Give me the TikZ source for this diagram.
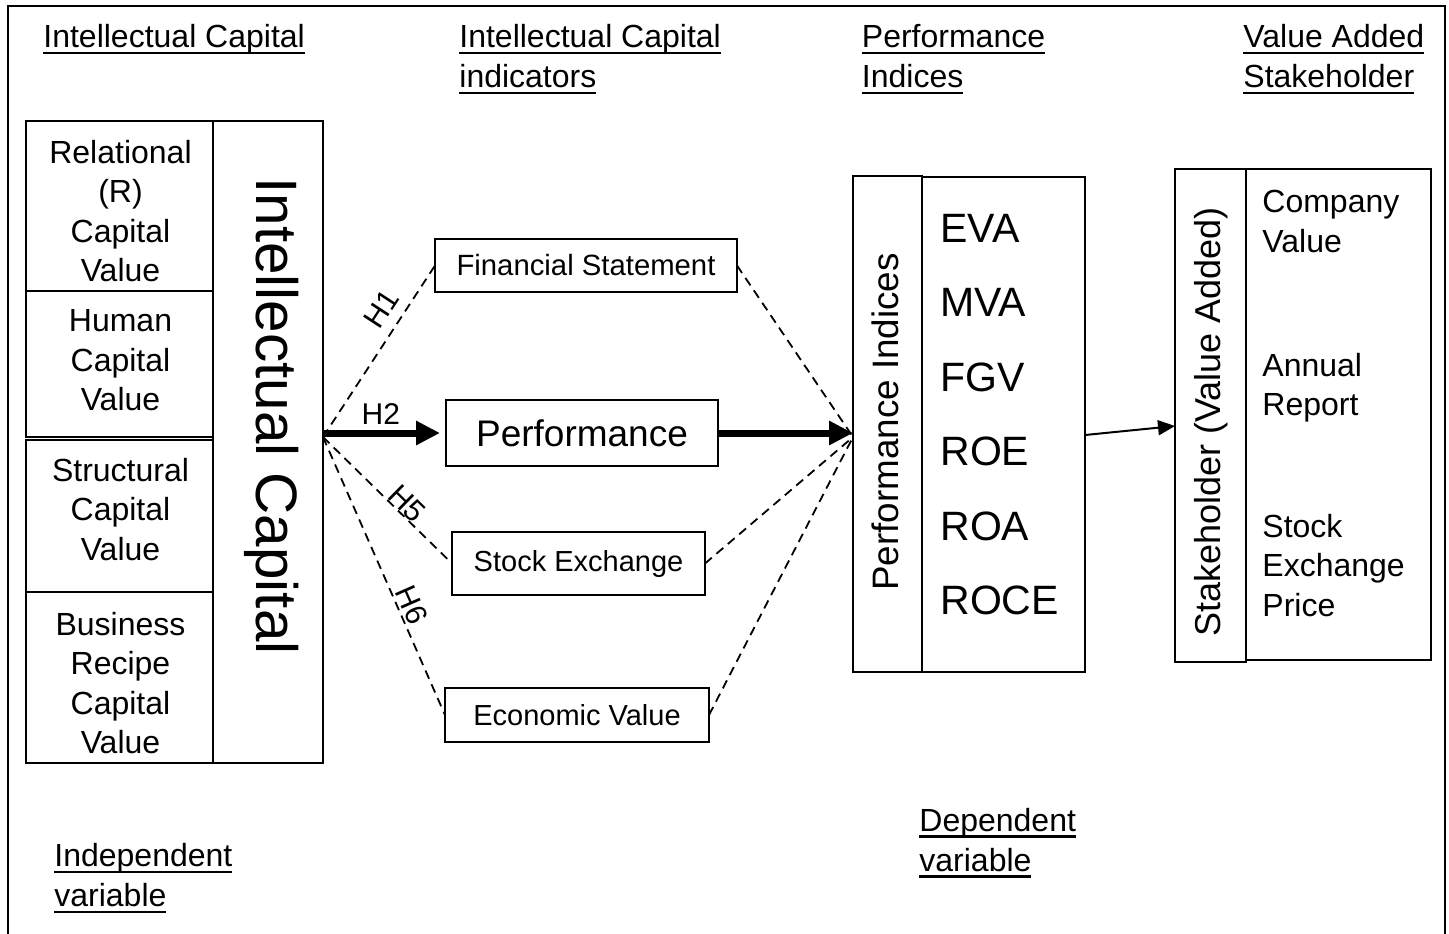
\documentclass[tikz,border=0pt]{standalone}
\usepackage{fontspec}
\setmainfont{Liberation Sans}
\usetikzlibrary{arrows.meta,calc}
\newcommand\hul[1]{\setbox0\hbox{#1}\rlap{\rule[-3.2pt]{\wd0}{1.1pt}}\box0}
\tikzset{
  frame/.style={line width=1pt},
  box/.style={draw, line width=1pt, inner sep=0pt, outer sep=0pt},
  bodytext/.style={inner sep=0pt, font=\fontsize{16pt}{19.7pt}\selectfont},
  hdr/.style={inner sep=0pt, anchor=west, align=left, font=\fontsize{16pt}{20pt}\selectfont},
  dashline/.style={line width=0.9pt, dash pattern=on 4.5pt off 3pt},
  bigarrow/.style={line width=3.5pt, -{Triangle[length=12pt,width=11.5pt]}},
  thinarrow/.style={line width=1pt, -{Triangle[length=8.5pt,width=7.5pt]}},
  hlabel/.style={font=\fontsize{15pt}{18pt}\selectfont, inner sep=0pt, sloped}
}
\begin{document}
\begin{tikzpicture}[x=0.5pt,y=-0.5pt]
\useasboundingbox (0,0) rectangle (1449,933);
% frame (open at the bottom)
\draw[frame] (7.5,945) -- (7.5,5.5) -- (1444.5,5.5) -- (1444.5,945);

% headings
\node[hdr] (h1) at (43,39.2) {\hul{Intellectual Capital}};
\node[hdr] (h2) at (459,59) {\hul{Intellectual Capital}\\\hul{indicators}};
\node[hdr] (h3) at (861.5,59) {\hul{Performance}\\\hul{Indices}};
\node[hdr] (h4) at (1243,59) {\hul{Value Added}\\\hul{Stakeholder}};

% left block
\node[box, minimum width=93.5pt, minimum height=85pt] (L1) at (119.5,206) {};
\node[box, minimum width=93.5pt, minimum height=73pt] (L2) at (119.5,364) {};
\node[box, minimum width=93.5pt, minimum height=76pt] (L3) at (119.5,516) {};
\node[box, minimum width=93.5pt, minimum height=85.5pt] (L4) at (119.5,677.5) {};
\node[box, minimum width=55pt, minimum height=321pt] (IC) at (268,442) {};
\node[bodytext, align=center] (L1t) at (120.5,211) {Relational\\(R)\\Capital\\Value};
\node[bodytext, align=center] (L2t) at (120.5,360.4) {Human\\Capital\\Value};
\node[bodytext, align=center] (L3t) at (120.5,509.4) {Structural\\Capital\\Value};
\node[bodytext, align=center] (L4t) at (120.5,682.9) {Business\\Recipe\\Capital\\Value};
\node[rotate=-90, inner sep=0pt, font=\fontsize{29.2pt}{35pt}\selectfont] (ICt) at (272,416) {Intellectual Capital};

% indicator boxes
\node[box, minimum width=151pt, minimum height=26.5pt, font=\fontsize{14.65pt}{17pt}\selectfont] (FS) at (586,265.5) {Financial Statement};
\node[box, minimum width=136pt, minimum height=33pt, font=\fontsize{18.5pt}{22pt}\selectfont] (Perf) at (582,433) {Performance};
\node[box, minimum width=126.5pt, minimum height=31.5pt, font=\fontsize{14.5pt}{17pt}\selectfont] (SE) at (578.5,563.5) {Stock Exchange};
\node[box, minimum width=132pt, minimum height=27pt, font=\fontsize{14.5pt}{17pt}\selectfont] (EV) at (577,715) {Economic Value};

% performance indices block
\node[box, minimum width=34.5pt, minimum height=248pt] (PIl) at (887.5,424) {};
\node[box, minimum width=81.5pt, minimum height=247.5pt] (PIr) at (1003.5,424.5) {};
\node[rotate=90, inner sep=0pt, font=\fontsize{18.4pt}{22pt}\selectfont] (PIt) at (885.6,422) {Performance Indices};
\node[inner sep=0pt, anchor=west, align=left, font=\fontsize{20.5pt}{37.2pt}\selectfont] (PIlist) at (940,414.5) {EVA\\MVA\\FGV\\ROE\\ROA\\ROCE};

% stakeholder block
\node[box, minimum width=35.5pt, minimum height=246.5pt] (SHl) at (1210.5,415.5) {};
\node[box, minimum width=92.5pt, minimum height=245.5pt] (SHr) at (1338.5,414.5) {};
\node[rotate=90, inner sep=0pt, font=\fontsize{18pt}{22pt}\selectfont] (SHt) at (1210.7,422) {Stakeholder (Value Added)};
\node[bodytext, anchor=west, align=left] (CV) at (1262,221.3) {Company\\Value};
\node[bodytext, anchor=west, align=left] (AR) at (1262,387.7) {Annual\\Report};
\node[bodytext, anchor=west, align=left] (SEP) at (1262,565.4) {Stock\\Exchange\\Price};

% bottom labels
\node[hdr] (dep) at (919,842.7) {\hul{Dependent}\\\hul{variable}};
\node[hdr] (indep) at (54,878.2) {\hul{Independent}\\\hul{variable}};

% hubs
\coordinate (hubL) at (323,437);
\coordinate (hubR) at (853,437);

% connectors
\draw[dashline] (hubL) -- (FS.west) node[hlabel, pos=0.68, above=5pt] (lh1) {H1};
\draw[dashline] (hubL) -- (SE.west) node[hlabel, pos=0.59, above=0pt] (lh5) {H5};
\draw[dashline] (hubL) -- (EV.west) node[hlabel, pos=0.625, above=1.2pt] (lh6) {H6};
\draw[dashline] (FS.east) -- (hubR);
\draw[dashline] (SE.east) -- (hubR);
\draw[dashline] (EV.east) -- (hubR);
\draw[bigarrow, shorten >=3pt] (IC.east |- Perf.west) -- (Perf.west) node[hlabel, pos=0.47, above=2.6pt] (lh2) {H2};
\draw[bigarrow] (Perf.east) -- (Perf.east -| PIl.west);
\draw[thinarrow] ([yshift=-5.25pt]PIr.east) -- ([yshift=-5.25pt]SHl.west);
\end{tikzpicture}
\end{document}
